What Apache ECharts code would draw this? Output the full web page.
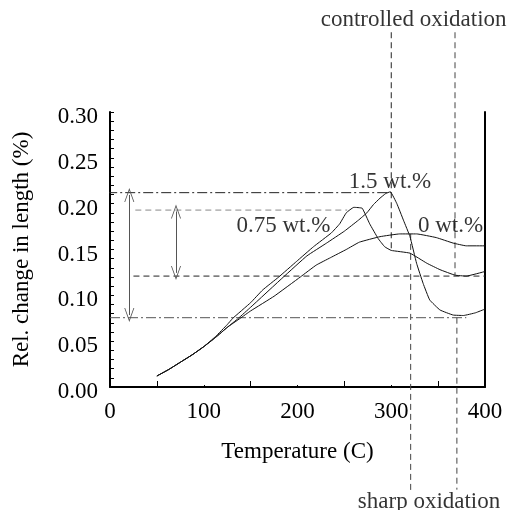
<!DOCTYPE html>
<html>
<head>
<meta charset="utf-8">
<script src="https://cdn.jsdelivr.net/npm/echarts@6/dist/echarts.min.js"></script>
<style>
html,body{margin:0;padding:0;background:#fff;}
#c{width:509px;height:510px;}
</style>
</head>
<body>
<div id="c"></div>
<script>
// ---- data ----
const temp15 = [50,62.5,75,87.5,100,112.5,125,137,150,185,210,231,250,265,274,281,288,294,299,306,313,320,327,334,341,352,366,377,390,400];
const val15  = [0.012,0.019,0.027,0.035,0.044,0.054,0.065,0.075,0.087,0.120,0.143,0.157,0.170,0.182,0.190,0.199,0.206,0.211,0.213,0.200,0.182,0.164,0.135,0.113,0.095,0.084,0.0785,0.078,0.081,0.085];

const temp075 = [50,62.5,75,87.5,100,112.5,125,131,150,163,180,199,217,236,245,252,260,269,277,286,293,300,320,338,352,368,380,400];
const val075  = [0.012,0.019,0.027,0.035,0.044,0.055,0.068,0.075,0.092,0.106,0.120,0.137,0.153,0.168,0.178,0.190,0.196,0.195,0.178,0.162,0.153,0.149,0.146,0.135,0.128,0.122,0.121,0.126];

const temp0 = [50,62.5,75,87.5,100,112.5,125,139,150,175,203,220,235,252,266,288,309,327,348,366,380,400];
const val0  = [0.012,0.019,0.027,0.035,0.044,0.054,0.065,0.075,0.083,0.099,0.120,0.133,0.141,0.150,0.158,0.164,0.167,0.167,0.163,0.157,0.154,0.154];

const xTicks = [0,100,200,300,400];
const yTicks = [0.00,0.05,0.10,0.15,0.20,0.25,0.30];

// horizontal reference levels: [value, fromTemp, toTemp]
const levelPeak15   = [0.212, -3, 300];
const levelPeak075  = [0.193, 27, 253];
const levelEnd075   = [0.121, 25, 400];
const levelMin15    = [0.0756, 0, 380];

// double arrows: [temp, top, bottom]
const arrowBig   = [20.6, 0.2095, 0.0785];
const arrowSmall = [70.4, 0.1915, 0.1245];

// vertical guide lines: [temp, from, to]
const vControlled1 = [300, 0.387, 0.149];
const vControlled2 = [368, 0.387, 0.122];
const vSharp1      = [320.7, 0.167, -0.116];
const vSharp2      = [370, 0.0756, -0.112];

// text annotations: [temp, value, text]
const curveLabels = [
  [298.7, 0.2236, '1.5 wt.%'],
  [184.9, 0.1756, '0.75 wt.%'],
  [363.2, 0.1756, '0 wt.%'],
  [323.9, 0.4003, 'controlled oxidation'],
  [340.3, -0.1255, 'sharp oxidation']
];

const FONT = '"Liberation Serif","Times New Roman",serif';
const FS = 23;
const zip = (a, b) => a.map((v, i) => [v, b[i]]);

function hLine(l, color, type) {
  return {
    type: 'line', data: [[l[1], l[0]], [l[2], l[0]]], symbol: 'none', clip: false,
    silent: true, lineStyle: {color: color, width: 1, type: type}, z: 1
  };
}
function vLine(l, color) {
  return {
    type: 'line', data: [[l[0], l[1]], [l[0], l[2]]], symbol: 'none', clip: false,
    silent: true, lineStyle: {color: color, width: 1, type: [6, 4]}, z: 1
  };
}
function curve(t, v) {
  return {
    type: 'line', data: zip(t, v), symbol: 'none', smooth: 0.1, clip: false,
    lineStyle: {color: '#111', width: 1}, z: 3
  };
}
const vArrow = 'path://M0,0L6,14L5,14L0,2.5L-5,14L-6,14Z';
function arrow(a) {
  return {
    type: 'line', data: [], symbol: 'none',
    markLine: {
      silent: true, symbol: [vArrow, vArrow], symbolSize: [10, 14],
      label: {show: false},
      lineStyle: {color: '#555', width: 1, type: 'solid'},
      data: [[{coord: [a[0], a[1]]}, {coord: [a[0], a[2]]}]]
    }
  };
}

const chart = echarts.init(document.getElementById('c'), null, {renderer: 'canvas'});
chart.setOption({
  animation: false,
  backgroundColor: '#fff',
  grid: {left: 110, right: 24, top: 112, bottom: 123, containLabel: false},
  xAxis: {
    type: 'value', min: 0, max: 400, interval: 100,
    name: 'Temperature (C)', nameLocation: 'middle', nameGap: 53,
    nameTextStyle: {fontFamily: FONT, fontSize: FS, color: '#000'},
    axisLine: {lineStyle: {color: '#000', width: 2}},
    axisTick: {show: true, inside: true, length: 2, lineStyle: {color: '#000'}},
    minorTick: {show: true, splitNumber: 2, length: 6, lineStyle: {color: '#000'}},
    axisLabel: {fontFamily: FONT, fontSize: FS, color: '#000', margin: 13,
      formatter: v => (xTicks.indexOf(v) >= 0 ? String(v) : '')},
    splitLine: {show: false}
  },
  yAxis: [{
    type: 'value', min: 0, max: 0.3, interval: 0.05,
    name: 'Rel. change in length (%)', nameLocation: 'middle', nameGap: 77, nameRotate: 90,
    nameTextStyle: {fontFamily: FONT, fontSize: FS, color: '#000'},
    axisLine: {show: true, lineStyle: {color: '#000', width: 2}},
    axisTick: {show: true, inside: true, length: 4, lineStyle: {color: '#000'}},
    minorTick: {show: true, splitNumber: 5, length: 4, lineStyle: {color: '#000'}},
    axisLabel: {color: '#000', margin: 12,
      formatter: v => {
        const i = yTicks.findIndex(t => Math.abs(t - v) < 1e-9);
        return i >= 0 ? '{a|' + yTicks[i].toFixed(2) + '}' : '';
      },
      rich: {a: {fontFamily: FONT, fontSize: FS, color: '#000', padding: [10, 0, 0, 0]}}
    },
    splitLine: {show: false}
  }, {
    type: 'value', min: 0, max: 0.3, position: 'right',
    axisLine: {show: true, lineStyle: {color: '#000', width: 2}},
    axisTick: {show: false}, axisLabel: {show: false}, splitLine: {show: false}
  }],
  series: [
    hLine(levelPeak15, '#222', [10, 3, 2, 3]),
    hLine(levelPeak075, '#888', [6, 4]),
    hLine(levelEnd075, '#222', [6, 4]),
    hLine(levelMin15, '#555', [10, 3, 2, 3]),
    vLine(vControlled1, '#222'),
    vLine(vControlled2, '#444'),
    vLine(vSharp1, '#444'),
    vLine(vSharp2, '#444'),
    arrow(arrowBig),
    arrow(arrowSmall),
    curve(temp15, val15),
    curve(temp075, val075),
    curve(temp0, val0),
    {
      type: 'scatter', data: curveLabels, symbolSize: 0, clip: false, silent: true, z: 5,
      label: {show: true, position: 'inside', formatter: p => p.data[2],
        fontFamily: FONT, fontSize: FS, color: '#000'}
    }
  ]
});
</script>
</body>
</html>
